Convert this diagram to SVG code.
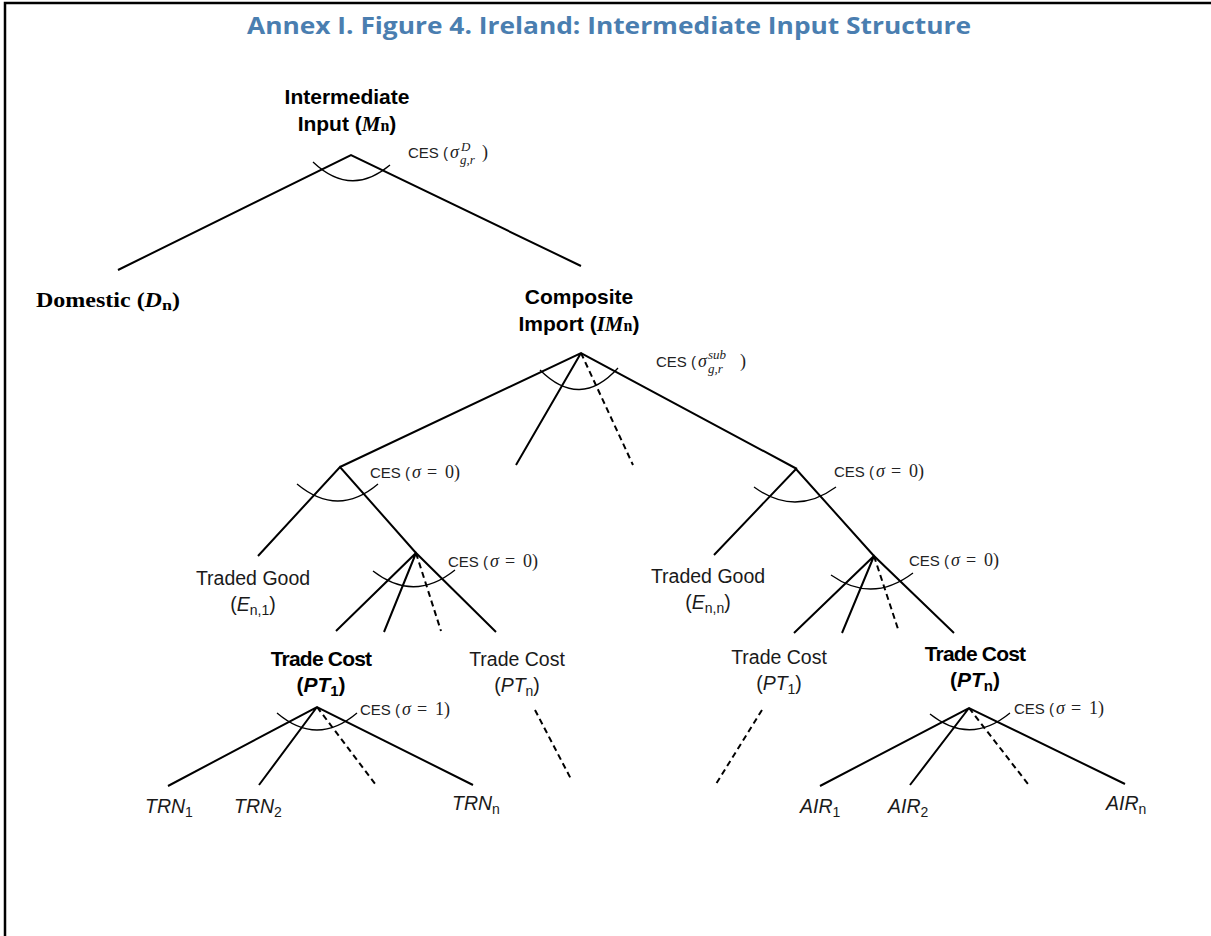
<svg xmlns="http://www.w3.org/2000/svg" width="1211" height="936" viewBox="0 0 1211 936">
<style>
.ln{stroke:#000;stroke-width:2;fill:none}
.ds{stroke:#000;stroke-width:2;fill:none;stroke-dasharray:6 4}
.arc{stroke:#000;stroke-width:1.3;fill:none}
.lb{font-family:"Liberation Sans",Arial,sans-serif;font-size:19.5px;fill:#1a1a1a}
.bd{font-family:"Liberation Sans",Arial,sans-serif;font-size:21px;font-weight:bold;fill:#000}
.ces{font-family:"Liberation Sans",Arial,sans-serif;font-size:15px;fill:#222}
.mt{font-family:"Liberation Serif","Times New Roman",serif;font-size:18px;fill:#222}
.sc{font-family:"Liberation Serif","Times New Roman",serif;font-size:13px;font-style:italic;fill:#222}
.it{font-style:italic}
.mb{font-family:"Liberation Serif","Times New Roman",serif;font-weight:bold}
.tt{font-family:"Open Sans","Liberation Sans",sans-serif;font-size:24px;font-weight:bold;fill:#4a7eb0}
</style>
<rect x="0" y="0" width="1211" height="936" fill="#fff"/>
<path d="M5,936 V3 H1211" stroke="#000" stroke-width="2.5" fill="none"/>
<text class="tt" x="609" y="34" text-anchor="middle" textLength="724" lengthAdjust="spacingAndGlyphs">Annex I. Figure 4. Ireland: Intermediate Input Structure</text>

<g id="connectors">
<path class="ln" d="M118,270 L351,155 L581,266"/>
<path class="arc" d="M313,162 Q351,198 390,165"/>
<path class="ln" d="M340,467 L581,353 L797,469 M581,353 L516,465"/>
<path class="ds" d="M581,353 L633,465"/>
<path class="arc" d="M540,370 Q580,410 618,368"/>
<path class="ln" d="M258,556 L340,467 L416,553"/>
<path class="arc" d="M297,484 Q338,518 378,484"/>
<path class="ln" d="M336,631 L416,553 L496,632 M416,553 L384,632"/>
<path class="ds" d="M416,553 L441,631"/>
<path class="arc" d="M373,571 Q414,603 455,570"/>
<path class="ln" d="M714,555 L796,469 L874,556"/>
<path class="arc" d="M754,487 Q795,517 836,487"/>
<path class="ln" d="M794,633 L874,556 L954,633 M874,556 L842,633"/>
<path class="ds" d="M874,556 L899,632"/>
<path class="arc" d="M831,575 Q872,604 913,573"/>
<path class="ln" d="M168,786 L317,707 L473,785 M317,707 L259,785"/>
<path class="ds" d="M317,707 L376,785"/>
<path class="arc" d="M277,713 Q317,747 357,713"/>
<path class="ds" d="M535,710 L572,781 M762,710 L716,784"/>
<path class="ln" d="M820,786 L969,708 L1125,784 M969,708 L910,785"/>
<path class="ds" d="M969,708 L1028,784"/>
<path class="arc" d="M930,714 Q970,746 1010,713"/>
</g>

<g id="intermediate-input">
<text class="bd" x="347" y="104" text-anchor="middle">Intermediate</text>
<text class="bd" x="347" y="131" text-anchor="middle">Input (<tspan class="mb it">M</tspan><tspan class="mb" style="font-size:16px">n</tspan>)</text>
<text class="ces" x="408" y="158">CES (</text>
<text class="mt it" x="450" y="158">σ</text>
<text class="sc" x="461" y="151">D</text>
<text class="sc" x="460" y="164">g,r</text>
<text class="mt" x="482" y="158">)</text>
</g>

<g id="domestic">
<text class="mb" x="36" y="307" style="font-size:20px" textLength="144" lengthAdjust="spacingAndGlyphs">Domestic (<tspan class="it">D</tspan><tspan style="font-size:15px" dy="3">n</tspan><tspan dy="-3">)</tspan></text>
</g>

<g id="composite-import">
<text class="bd" x="579" y="304" text-anchor="middle">Composite</text>
<text class="bd" x="579" y="331" text-anchor="middle">Import (<tspan class="mb it">IM</tspan><tspan class="mb" style="font-size:16px">n</tspan>)</text>
<text class="ces" x="656" y="367">CES (</text>
<text class="mt it" x="698" y="367">σ</text>
<text class="sc" x="708" y="359">sub</text>
<text class="sc" x="708" y="373">g,r</text>
<text class="mt" x="740" y="367">)</text>
</g>

<g id="ces-left" transform="translate(370,478)">
<text class="ces" x="0" y="0">CES (</text><text class="mt it" x="42" y="0">σ</text><text class="mt" x="57" y="0">=</text><text class="mt" x="75" y="0">0)</text>
</g>
<g id="ces-left-sub" transform="translate(448,567)">
<text class="ces" x="0" y="0">CES (</text><text class="mt it" x="42" y="0">σ</text><text class="mt" x="57" y="0">=</text><text class="mt" x="75" y="0">0)</text>
</g>
<g id="ces-right" transform="translate(834,477)">
<text class="ces" x="0" y="0">CES (</text><text class="mt it" x="42" y="0">σ</text><text class="mt" x="57" y="0">=</text><text class="mt" x="75" y="0">0)</text>
</g>
<g id="ces-right-sub" transform="translate(909,566)">
<text class="ces" x="0" y="0">CES (</text><text class="mt it" x="42" y="0">σ</text><text class="mt" x="57" y="0">=</text><text class="mt" x="75" y="0">0)</text>
</g>

<g id="traded-good-1">
<text class="lb" x="253" y="585" text-anchor="middle">Traded Good</text>
<text class="lb" x="253" y="611" text-anchor="middle">(<tspan class="it">E</tspan><tspan style="font-size:14px" dy="4">n,1</tspan><tspan dy="-4">)</tspan></text>
</g>
<g id="traded-good-n">
<text class="lb" x="708" y="583" text-anchor="middle">Traded Good</text>
<text class="lb" x="708" y="609" text-anchor="middle">(<tspan class="it">E</tspan><tspan style="font-size:14px" dy="4">n,n</tspan><tspan dy="-4">)</tspan></text>
</g>

<g id="trade-cost-pt1-left">
<text class="bd" x="321" y="666" text-anchor="middle" letter-spacing="-0.8">Trade Cost</text>
<text class="bd" x="321" y="692" text-anchor="middle">(<tspan class="it">PT</tspan><tspan style="font-size:15px" dy="4">1</tspan><tspan dy="-4">)</tspan></text>
<g transform="translate(360,715)"><text class="ces" x="0" y="0">CES (</text><text class="mt it" x="42" y="0">σ</text><text class="mt" x="57" y="0">=</text><text class="mt" x="75" y="0">1)</text></g>
</g>
<g id="trade-cost-ptn-left">
<text class="lb" x="517" y="666" text-anchor="middle">Trade Cost</text>
<text class="lb" x="517" y="692" text-anchor="middle">(<tspan class="it">PT</tspan><tspan style="font-size:14px" dy="4">n</tspan><tspan dy="-4">)</tspan></text>
</g>
<g id="trade-cost-pt1-right">
<text class="lb" x="779" y="664" text-anchor="middle">Trade Cost</text>
<text class="lb" x="779" y="690" text-anchor="middle">(<tspan class="it">PT</tspan><tspan style="font-size:14px" dy="4">1</tspan><tspan dy="-4">)</tspan></text>
</g>
<g id="trade-cost-ptn-right">
<text class="bd" x="975" y="661" text-anchor="middle" letter-spacing="-0.8">Trade Cost</text>
<text class="bd" x="975" y="687" text-anchor="middle">(<tspan class="it">PT</tspan><tspan style="font-size:15px" dy="4">n</tspan><tspan dy="-4">)</tspan></text>
<g transform="translate(1014,714)"><text class="ces" x="0" y="0">CES (</text><text class="mt it" x="42" y="0">σ</text><text class="mt" x="57" y="0">=</text><text class="mt" x="75" y="0">1)</text></g>
</g>

<g id="trn1"><text class="lb it" x="145" y="813">TRN<tspan style="font-size:14px;font-style:normal" dy="4">1</tspan></text></g>
<g id="trn2"><text class="lb it" x="234" y="813">TRN<tspan style="font-size:14px;font-style:normal" dy="4">2</tspan></text></g>
<g id="trnn"><text class="lb it" x="452" y="810">TRN<tspan style="font-size:14px;font-style:normal" dy="4">n</tspan></text></g>
<g id="air1"><text class="lb it" x="800" y="813">AIR<tspan style="font-size:14px;font-style:normal" dy="4">1</tspan></text></g>
<g id="air2"><text class="lb it" x="888" y="813">AIR<tspan style="font-size:14px;font-style:normal" dy="4">2</tspan></text></g>
<g id="airn"><text class="lb it" x="1106" y="810">AIR<tspan style="font-size:14px;font-style:normal" dy="4">n</tspan></text></g>
</svg>
